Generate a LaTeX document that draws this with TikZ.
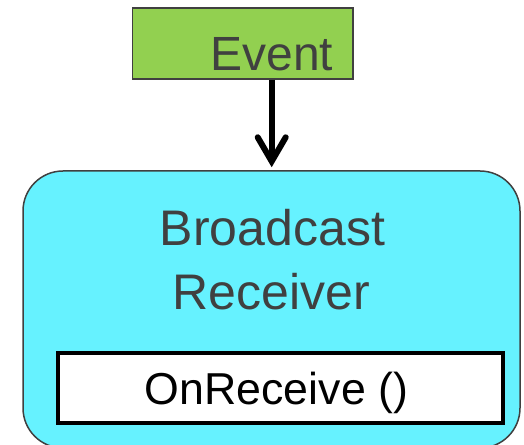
\documentclass[tikz,border=0pt]{standalone}
\usepackage{fontspec}
\setmainfont{Liberation Sans}
\usetikzlibrary{arrows.meta}
\definecolor{evgreen}{HTML}{92D050}
\definecolor{rcvcyan}{HTML}{66F2FF}
\definecolor{edgegray}{HTML}{404040}
\tikzset{
  evbox/.style={draw=edgegray, line width=1.5pt, fill=evgreen, inner sep=0pt},
  rcvbox/.style={draw=edgegray, line width=1.5pt, fill=rcvcyan, rounded corners=40pt, inner sep=0pt},
  methodbox/.style={draw=black, line width=4pt, fill=white, inner sep=0pt},
  graytext/.style={text=edgegray, inner sep=0pt, anchor=base},
  flow/.style={line width=6pt, -{Straight Barb[length=24pt, width=28pt, line cap=round]}}
}
\begin{document}
\begin{tikzpicture}[x=1pt, y=1pt]
  \useasboundingbox (0,0) rectangle (524,444);

  % event box and its label
  \node[evbox, minimum width=220.5pt, minimum height=71pt] (event) at (242.75,400.5) {};
  \node[graytext, font=\fontsize{48}{56}\selectfont] (eventlabel) at (271.7,373.3) {Event};

  % broadcast receiver body (runs past the lower edge)
  \node[rcvbox, minimum width=497pt, minimum height=277pt] (receiver) at (271.5,134.5) {};
  \node[graytext, font=\fontsize{50}{60}\selectfont] (rcvline1) at (272.5,198.3) {Broadcast};
  \node[graytext, font=\fontsize{50}{60}\selectfont] (rcvline2) at (271.5,134) {Receiver};

  % onReceive method box
  \node[methodbox, minimum width=445pt, minimum height=70pt] (method) at (280.5,56) {};
  \node[inner sep=0pt, anchor=base, font=\fontsize{44.7}{52}\selectfont] (methodlabel) at (276.5,39) {OnReceive ()};

  % event delivered to the receiver
  \coordinate (arrowtop) at (event.south -| eventlabel);
  \coordinate (arrowtip) at (receiver.north -| eventlabel);
  \draw[flow] (arrowtop) -- ([yshift=3pt]arrowtip);
\end{tikzpicture}
\end{document}
